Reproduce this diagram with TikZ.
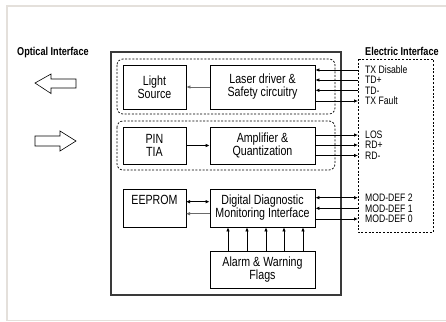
\documentclass[tikz,border=0pt]{standalone}
\usepackage{fontspec}
\setmainfont{Liberation Sans}[FakeStretch=0.8]
\usetikzlibrary{arrows.meta,calc}
\definecolor{framegray}{HTML}{E4E0DB}
\definecolor{mainline}{HTML}{3A3A3A}
\definecolor{grayarrow}{HTML}{6A6A6A}
\tikzset{
  blk/.style={draw=black, line width=0.8pt, align=center, inner sep=0pt, font=\fontsize{13.3}{13}\selectfont},
  dbox/.style={draw=black, line width=0.7pt, dash pattern=on 2pt off 1.6pt},
  arr/.style={line width=0.8pt, -{Latex[length=4pt,width=3.6pt]}},
  darr/.style={line width=0.8pt, {Latex[length=4pt,width=3.6pt]}-{Latex[length=4pt,width=3.6pt]}},
  sig/.style={anchor=base west, inner sep=0pt, font=\fontsize{10.8}{11}\selectfont},
  ttl/.style={anchor=base west, inner sep=0pt, font=\bfseries\fontsize{11.4}{12}\selectfont},
  blockarrow/.style={draw=black, line width=0.6pt, fill=white}
}
\begin{document}
\begin{tikzpicture}[x=1pt,y=-1pt]
\useasboundingbox (0,0) rectangle (446,321);
\fill[white] (0,0) rectangle (446,321);
% page frame
\draw[framegray, line width=2pt] (446,6) -- (7,6) -- (7,321);
\draw[framegray, line width=1pt] (7,320.5) -- (446,320.5);

% titles
\node[ttl] (optt) at (17,55.5) {Optical Interface};
\node[ttl] (elet) at (365,55.5) {Electric Interface};

% block arrows
\draw[blockarrow] (35,83) -- (51,74) -- (51,79) -- (76,79) -- (76,88) -- (51,88) -- (51,93.5) -- cycle;
\draw[blockarrow] (35,136) -- (60,136) -- (60,131) -- (76,141) -- (60,151) -- (60,146) -- (35,146) -- cycle;

% main box
\draw[mainline, line width=1.2pt] (111,52) rectangle (341,295);
% dashed groups
\draw[dbox, rounded corners=6pt] (117,59) rectangle (335,114);
\draw[dbox, rounded corners=6pt] (117,121) rectangle (335,170);
% electric interface
\draw[dbox] (358,59) rectangle (433,232);

% blocks
\node[blk, minimum width=63pt, minimum height=44pt] (light) at (154.5,87) {Light\\Source};
\node[blk, minimum width=105pt, minimum height=44pt] (laser) at (262.5,87) {Laser driver \&\\Safety circuitry};
\node[blk, minimum width=63pt, minimum height=37pt] (pin) at (154.5,145.5) {PIN\\TIA};
\node[blk, minimum width=105pt, minimum height=37pt] (amp) at (262.5,145.5) {Amplifier \&\\Quantization};
\node[blk, minimum width=63pt, anchor=north, inner ysep=6pt, text height=9.5pt, text depth=16.5pt] (eeprom) at (154.5,189) {EEPROM};
\node[blk, minimum width=105pt, minimum height=38pt] (ddm) at (262.5,208) {Digital Diagnostic\\Monitoring Interface};
\node[blk, minimum width=105pt, minimum height=37pt] (alarm) at (262.5,269.5) {Alarm \& Warning\\Flags};

% internal arrows
\draw[arr, grayarrow] (laser.west) -- (light.east);
\draw[arr] (pin.east) -- (amp.west);
\coordinate (ee1) at (186,201.7);
\coordinate (ee2) at (186,213.7);
\draw[darr] (ee1) -- (ee1 -| ddm.west);
\draw[arr, grayarrow] (ee2 -| ddm.west) -- (ee2);
\foreach \xx in {228,247,266,284,303}{
  \draw[arr] (\xx,0 |- alarm.north) -- (\xx,0 |- ddm.south);
}

% electric signals
\coordinate (s1) at (358,70);
\coordinate (s2) at (358,80);
\coordinate (s3) at (358,90.3);
\coordinate (s4) at (358,101);
\coordinate (s5) at (358,135);
\coordinate (s6) at (358,145);
\coordinate (s7) at (358,155.5);
\coordinate (s8) at (358,197.7);
\coordinate (s9) at (358,208.3);
\coordinate (s10) at (358,219);
\draw[arr] (s1) -- (s1 -| laser.east);
\draw[arr] (s2) -- (s2 -| laser.east);
\draw[arr] (s3) -- (s3 -| laser.east);
\draw[arr] (s4 -| laser.east) -- (s4);
\draw[arr] (s5 -| amp.east) -- (s5);
\draw[arr] (s6 -| amp.east) -- (s6);
\draw[arr] (s7 -| amp.east) -- (s7);
\draw[darr] (s8 -| ddm.east) -- (s8);
\draw[arr] (s9) -- (s9 -| ddm.east);
\draw[arr] (s10 -| ddm.east) -- (s10);

\node[sig] (l1) at (365,73.9) {TX Disable};
\node[sig] (l2) at (365,83.9) {TD+};
\node[sig] (l3) at (365,94.2) {TD-};
\node[sig] (l4) at (365,104.9) {TX Fault};
\node[sig] (l5) at (365,138.9) {LOS};
\node[sig] (l6) at (365,148.9) {RD+};
\node[sig] (l7) at (365,159.4) {RD-};
\node[sig] (l8) at (365,201.6) {MOD-DEF 2};
\node[sig] (l9) at (365,212.2) {MOD-DEF 1};
\node[sig] (l10) at (365,222.9) {MOD-DEF 0};
\end{tikzpicture}
\end{document}
